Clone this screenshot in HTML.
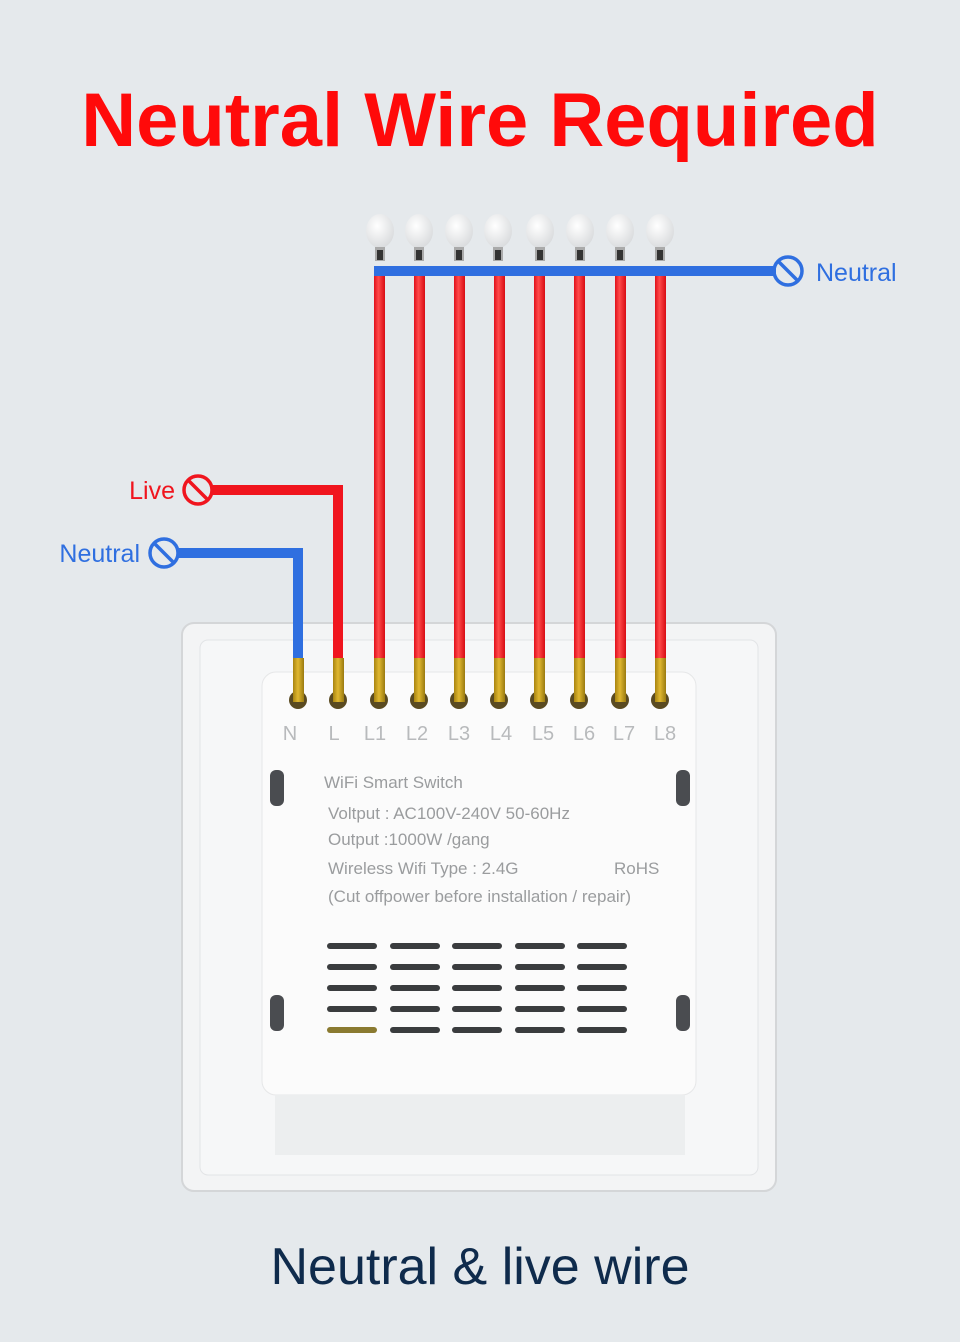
<!DOCTYPE html>
<html><head><meta charset="utf-8"><style>
html,body{margin:0;padding:0;background:#e5e9ec;}
body{width:960px;height:1342px;position:relative;overflow:hidden;font-family:"Liberation Sans","DejaVu Sans",sans-serif;}
svg{position:absolute;left:0;top:0}
</style></head><body>
<svg width="960" height="1342" viewBox="0 0 960 1342">
<defs>
<linearGradient id="red" x1="0" x2="1"><stop offset="0" stop-color="#e0101a"/><stop offset=".4" stop-color="#ff4a4a"/><stop offset="1" stop-color="#d80c14"/></linearGradient>
<linearGradient id="gold" x1="0" x2="1"><stop offset="0" stop-color="#a88410"/><stop offset=".45" stop-color="#e0b830"/><stop offset="1" stop-color="#9a7a10"/></linearGradient>
<radialGradient id="bulb" cx=".4" cy=".35" r=".7"><stop offset="0" stop-color="#ffffff"/><stop offset="1" stop-color="#d8dadc"/></radialGradient>
</defs>
<text x="480" y="146" text-anchor="middle" font-size="76" font-weight="bold" fill="#ff0a0a">Neutral Wire Required</text>

<!-- plate -->
<rect x="182" y="623" width="594" height="568" rx="12" fill="#f3f4f5" stroke="#d4d6d8" stroke-width="2"/>
<rect x="200" y="640" width="558" height="535" rx="8" fill="#f6f7f8" stroke="#e2e4e6"/>
<rect x="262" y="672" width="434" height="423" rx="14" fill="#fbfbfb" stroke="#e6e7e8"/>
<rect x="275" y="1095" width="410" height="60" fill="#eceeef"/>
<rect x="270" y="770" width="14" height="36" rx="6" fill="#4a4c50"/>
<rect x="676" y="770" width="14" height="36" rx="6" fill="#4a4c50"/>
<rect x="270" y="995" width="14" height="36" rx="6" fill="#4a4c50"/>
<rect x="676" y="995" width="14" height="36" rx="6" fill="#4a4c50"/>

<g id="vents" fill="#3a3c3e">
<rect x="327" y="943" width="50" height="6" rx="3"/><rect x="390" y="943" width="50" height="6" rx="3"/><rect x="452" y="943" width="50" height="6" rx="3"/><rect x="515" y="943" width="50" height="6" rx="3"/><rect x="577" y="943" width="50" height="6" rx="3"/>
<rect x="327" y="964" width="50" height="6" rx="3"/><rect x="390" y="964" width="50" height="6" rx="3"/><rect x="452" y="964" width="50" height="6" rx="3"/><rect x="515" y="964" width="50" height="6" rx="3"/><rect x="577" y="964" width="50" height="6" rx="3"/>
<rect x="327" y="985" width="50" height="6" rx="3"/><rect x="390" y="985" width="50" height="6" rx="3"/><rect x="452" y="985" width="50" height="6" rx="3"/><rect x="515" y="985" width="50" height="6" rx="3"/><rect x="577" y="985" width="50" height="6" rx="3"/>
<rect x="327" y="1006" width="50" height="6" rx="3"/><rect x="390" y="1006" width="50" height="6" rx="3"/><rect x="452" y="1006" width="50" height="6" rx="3"/><rect x="515" y="1006" width="50" height="6" rx="3"/><rect x="577" y="1006" width="50" height="6" rx="3"/>
<rect x="327" y="1027" width="50" height="6" rx="3" fill="#8a7a30"/><rect x="390" y="1027" width="50" height="6" rx="3"/><rect x="452" y="1027" width="50" height="6" rx="3"/><rect x="515" y="1027" width="50" height="6" rx="3"/><rect x="577" y="1027" width="50" height="6" rx="3"/>
</g>

<g font-size="17" fill="#9a9c9e">
<text x="324" y="788">WiFi Smart Switch</text>
<text x="328" y="819">Voltput : AC100V-240V  50-60Hz</text>
<text x="328" y="845">Output :1000W /gang</text>
<text x="328" y="874">Wireless Wifi Type : 2.4G</text>
<text x="614" y="874">RoHS</text>
<text x="328" y="902">(Cut offpower before installation / repair)</text>
</g>
<g font-size="20" fill="#b8babc" text-anchor="middle">
<text x="290" y="740">N</text><text x="334" y="740">L</text><text x="375" y="740">L1</text><text x="417" y="740">L2</text><text x="459" y="740">L3</text><text x="501" y="740">L4</text><text x="543" y="740">L5</text><text x="584" y="740">L6</text><text x="624" y="740">L7</text><text x="665" y="740">L8</text>
</g>

<!-- bulbs -->
<g id="b">
<g transform="translate(380,0)"><ellipse cx="0" cy="231" rx="14" ry="17" fill="url(#bulb)"/><rect x="-5" y="247" width="10" height="14" fill="#aaa"/><rect x="-3" y="250" width="6" height="10" fill="#333"/></g>
<g transform="translate(419,0)"><ellipse cx="0" cy="231" rx="14" ry="17" fill="url(#bulb)"/><rect x="-5" y="247" width="10" height="14" fill="#aaa"/><rect x="-3" y="250" width="6" height="10" fill="#333"/></g>
<g transform="translate(459,0)"><ellipse cx="0" cy="231" rx="14" ry="17" fill="url(#bulb)"/><rect x="-5" y="247" width="10" height="14" fill="#aaa"/><rect x="-3" y="250" width="6" height="10" fill="#333"/></g>
<g transform="translate(498,0)"><ellipse cx="0" cy="231" rx="14" ry="17" fill="url(#bulb)"/><rect x="-5" y="247" width="10" height="14" fill="#aaa"/><rect x="-3" y="250" width="6" height="10" fill="#333"/></g>
<g transform="translate(540,0)"><ellipse cx="0" cy="231" rx="14" ry="17" fill="url(#bulb)"/><rect x="-5" y="247" width="10" height="14" fill="#aaa"/><rect x="-3" y="250" width="6" height="10" fill="#333"/></g>
<g transform="translate(580,0)"><ellipse cx="0" cy="231" rx="14" ry="17" fill="url(#bulb)"/><rect x="-5" y="247" width="10" height="14" fill="#aaa"/><rect x="-3" y="250" width="6" height="10" fill="#333"/></g>
<g transform="translate(620,0)"><ellipse cx="0" cy="231" rx="14" ry="17" fill="url(#bulb)"/><rect x="-5" y="247" width="10" height="14" fill="#aaa"/><rect x="-3" y="250" width="6" height="10" fill="#333"/></g>
<g transform="translate(660,0)"><ellipse cx="0" cy="231" rx="14" ry="17" fill="url(#bulb)"/><rect x="-5" y="247" width="10" height="14" fill="#aaa"/><rect x="-3" y="250" width="6" height="10" fill="#333"/></g>
</g>

<!-- red load wires -->
<g fill="url(#red)">
<rect x="374" y="276" width="11" height="383"/><rect x="414" y="276" width="11" height="383"/><rect x="454" y="276" width="11" height="383"/><rect x="494" y="276" width="11" height="383"/><rect x="534" y="276" width="11" height="383"/><rect x="574" y="276" width="11" height="383"/><rect x="615" y="276" width="11" height="383"/><rect x="655" y="276" width="11" height="383"/>
</g>
<!-- top neutral bus -->
<rect x="374" y="266" width="402" height="10" fill="#2f6fe0"/>
<circle cx="788" cy="271" r="14" fill="none" stroke="#2f6fe0" stroke-width="3.5"/>
<line x1="779" y1="262" x2="797" y2="280" stroke="#2f6fe0" stroke-width="3.5"/>
<text x="816" y="281" font-size="25" fill="#2f6fe0">Neutral</text>

<!-- live input -->
<path d="M212 490 H338 V659" fill="none" stroke="#f0151e" stroke-width="10"/>
<circle cx="198" cy="490" r="14" fill="none" stroke="#f0151e" stroke-width="3.5"/>
<line x1="189" y1="481" x2="207" y2="499" stroke="#f0151e" stroke-width="3.5"/>
<text x="175" y="499" font-size="25" fill="#f0151e" text-anchor="end">Live</text>
<!-- neutral input -->
<path d="M178 553 H298 V659" fill="none" stroke="#2f6fe0" stroke-width="10"/>
<circle cx="164" cy="553" r="14" fill="none" stroke="#2f6fe0" stroke-width="3.5"/>
<line x1="155" y1="544" x2="173" y2="562" stroke="#2f6fe0" stroke-width="3.5"/>
<text x="140" y="562" font-size="25" fill="#2f6fe0" text-anchor="end">Neutral</text>

<!-- terminals -->
<g>
<g fill="#5a4a20"><circle cx="298" cy="700" r="9"/><circle cx="338" cy="700" r="9"/><circle cx="379" cy="700" r="9"/><circle cx="419" cy="700" r="9"/><circle cx="459" cy="700" r="9"/><circle cx="499" cy="700" r="9"/><circle cx="539" cy="700" r="9"/><circle cx="579" cy="700" r="9"/><circle cx="620" cy="700" r="9"/><circle cx="660" cy="700" r="9"/></g>
<g fill="url(#gold)"><rect x="293" y="658" width="11" height="44"/><rect x="333" y="658" width="11" height="44"/><rect x="374" y="658" width="11" height="44"/><rect x="414" y="658" width="11" height="44"/><rect x="454" y="658" width="11" height="44"/><rect x="494" y="658" width="11" height="44"/><rect x="534" y="658" width="11" height="44"/><rect x="574" y="658" width="11" height="44"/><rect x="615" y="658" width="11" height="44"/><rect x="655" y="658" width="11" height="44"/></g>
</g>

<text x="480" y="1284" text-anchor="middle" font-size="52" fill="#0f2b4c">Neutral &amp; live wire</text>
</svg>
</body></html>
